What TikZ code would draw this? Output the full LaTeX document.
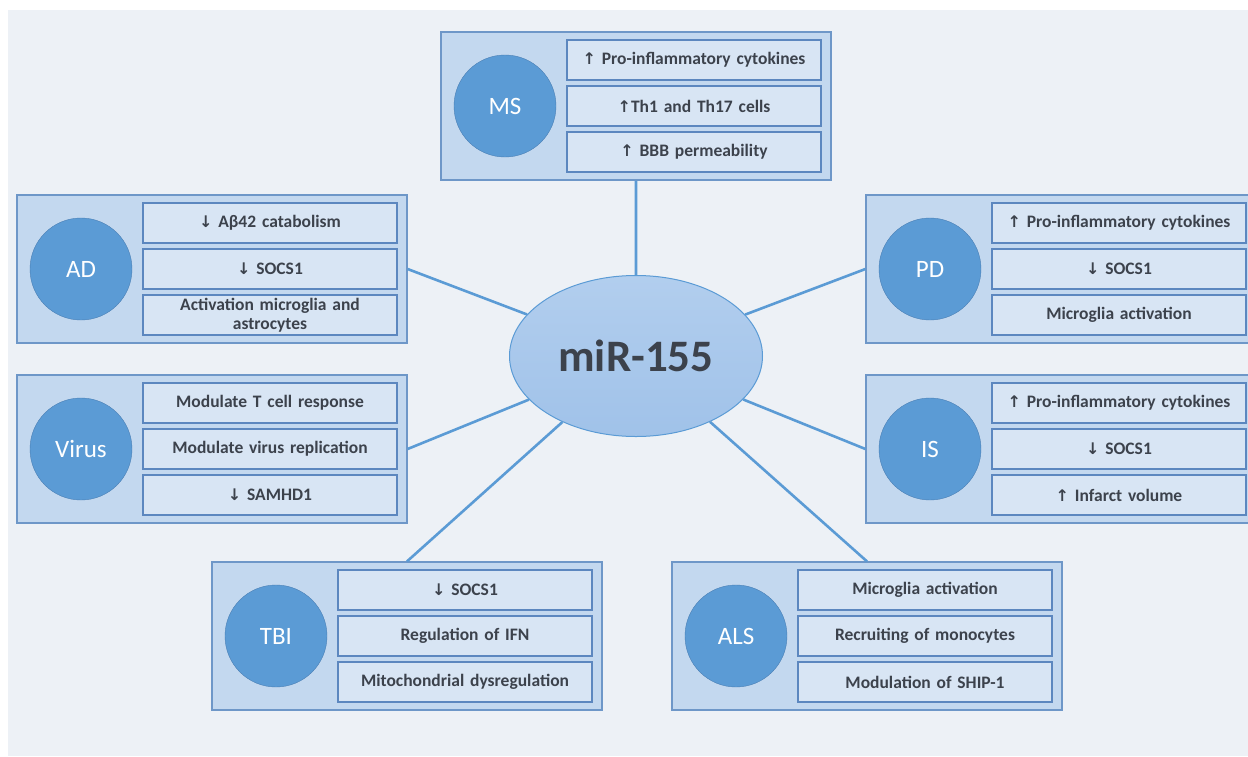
\documentclass[tikz,border=0pt]{standalone}
\usepackage{fontspec}
\setmainfont{Carlito}
\newfontfamily\arrowfont{DejaVu Sans}
\usetikzlibrary{positioning,shapes.geometric}

\definecolor{bgfill}{HTML}{EDF1F6}
\definecolor{panelfill}{HTML}{C3D8EF}
\definecolor{panelline}{HTML}{6E97C8}
\definecolor{itemfill}{HTML}{D8E5F4}
\definecolor{itemline}{HTML}{5C87BF}
\definecolor{discfill}{HTML}{5B9BD5}
\definecolor{discline}{HTML}{4A7FB5}
\definecolor{linkcol}{HTML}{5B9BD5}
\definecolor{elltop}{HTML}{B2CEEE}
\definecolor{ellbot}{HTML}{A0C2E9}
\definecolor{txt}{HTML}{3C424C}

\newcommand{\incr}{{\arrowfont\fontsize{16}{18}\selectfont ↑}}
\newcommand{\decr}{{\arrowfont\fontsize{16}{18}\selectfont ↓}}

\begin{document}
\begin{tikzpicture}[x=1pt,y=-1pt,node distance=46pt,on grid]
    \tikzset{panel/.style={draw=panelline,fill=panelfill,line width=1.2pt,minimum width=390pt,minimum height=148pt,inner sep=0pt}}
    \tikzset{disease/.style={circle,draw=discline,fill=discfill,minimum size=102pt,inner sep=0pt,text=white,font=\fontsize{25}{28}\selectfont}}
    \tikzset{item/.style={draw=itemline,fill=itemfill,line width=1.1pt,text width=240pt,inner xsep=7pt,inner ysep=1pt,minimum height=40pt,align=center,text=txt,font=\bfseries\fontsize{17.5}{19}\selectfont}}
    \tikzset{link/.style={draw=linkcol,line width=2.6pt}}
    \useasboundingbox (0,0) rectangle (1248,756);
    \clip (0,0) rectangle (1248,756);
    \fill[bgfill] (8,10) rectangle (1248,756);
    % centre
    \node[ellipse,draw=linkcol,line width=1pt,top color=elltop,bottom color=ellbot,minimum width=253pt,minimum height=161pt,inner sep=0pt,text=txt,font=\bfseries\fontsize{45}{50}\selectfont] (mir) at (636,356) {miR-155};
    % MS
    \node[panel] (ms) at (636,106) {};
    \node[disease] (msc) [left = 131pt of ms] {MS};
    \node[item] (ms2) [right = 58pt of ms] {\incr Th1 and Th17 cells};
    \node[item] (ms1) [above = of ms2] {\incr{} Pro-inflammatory cytokines};
    \node[item] (ms3) [below = of ms2] {\incr{} BBB permeability};
    % AD
    \node[panel] (ad) at (212,269) {};
    \node[disease] (adc) [left = 131pt of ad] {AD};
    \node[item] (ad2) [right = 58pt of ad] {\decr{} SOCS1};
    \node[item] (ad1) [above = of ad2] {\decr{} Aβ42 catabolism};
    \node[item] (ad3) [below = of ad2] {Activation microglia and\\astrocytes};
    % PD
    \node[panel] (pd) at (1061,269) {};
    \node[disease] (pdc) [left = 131pt of pd] {PD};
    \node[item] (pd2) [right = 58pt of pd] {\decr{} SOCS1};
    \node[item] (pd1) [above = of pd2] {\incr{} Pro-inflammatory cytokines};
    \node[item] (pd3) [below = of pd2] {Microglia activation};
    % Virus
    \node[panel] (vir) at (212,449) {};
    \node[disease] (virc) [left = 131pt of vir] {Virus};
    \node[item] (vir2) [right = 58pt of vir] {Modulate virus replication};
    \node[item] (vir1) [above = of vir2] {Modulate T cell response};
    \node[item] (vir3) [below = of vir2] {\decr{} SAMHD1};
    % IS
    \node[panel] (is) at (1061,449) {};
    \node[disease] (isc) [left = 131pt of is] {IS};
    \node[item] (is2) [right = 58pt of is] {\decr{} SOCS1};
    \node[item] (is1) [above = of is2] {\incr{} Pro-inflammatory cytokines};
    \node[item] (is3) [below = of is2] {\incr{} Infarct volume};
    % TBI
    \node[panel] (tbi) at (407,636) {};
    \node[disease] (tbic) [left = 131pt of tbi] {TBI};
    \node[item] (tbi2) [right = 58pt of tbi] {Regulation of IFN};
    \node[item] (tbi1) [above = of tbi2] {\decr{} SOCS1};
    \node[item] (tbi3) [below = of tbi2] {Mitochondrial dysregulation};
    % ALS
    \node[panel] (als) at (867,636) {};
    \node[disease] (alsc) [left = 131pt of als] {ALS};
    \node[item] (als2) [right = 58pt of als] {Recruiting of monocytes};
    \node[item] (als1) [above = of als2] {Microglia activation};
    \node[item] (als3) [below = of als2] {Modulation of SHIP-1};
    % links
    \path[link]
    (ms.south) -- (mir)
    (ad.east) -- (mir)
    (pd.west) -- (mir)
    (vir.east) -- (mir)
    (is.west) -- (mir)
    (tbi.north) -- (mir)
    (als.north) -- (mir);
\end{tikzpicture}
\end{document}
